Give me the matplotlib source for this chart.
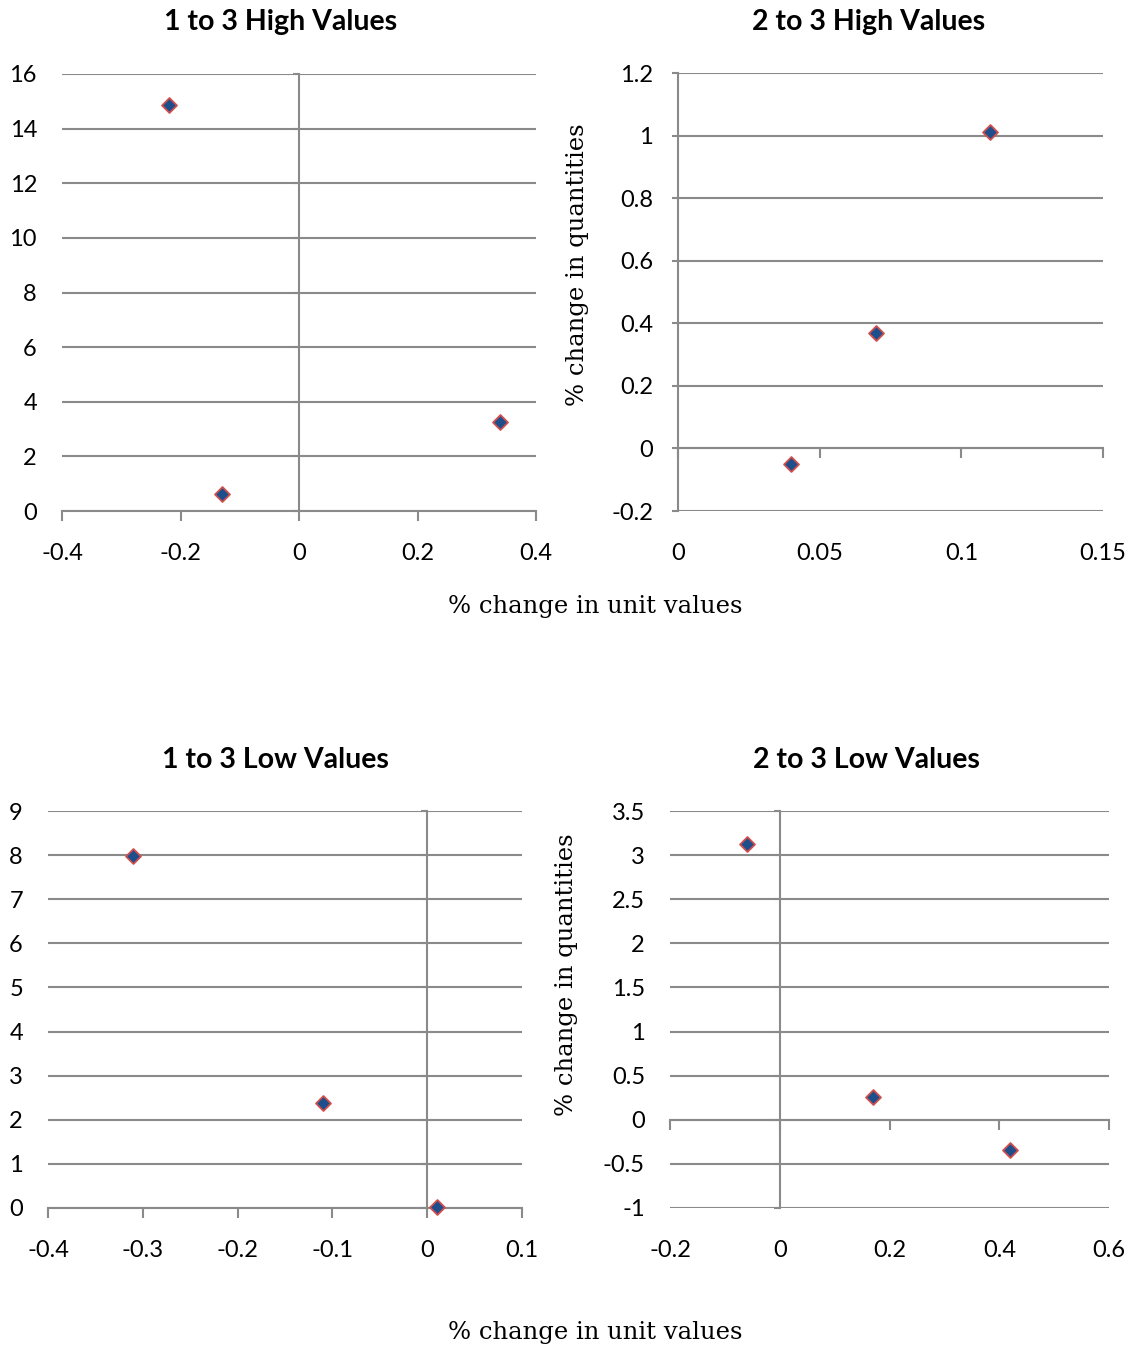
import matplotlib
matplotlib.use("Agg")
import matplotlib.pyplot as plt
import numpy as np

# data
hi13_x = [-0.22, -0.13, 0.34]
hi13_y = [14.88, 0.62, 3.25]
hi23_x = [0.04, 0.07, 0.11]
hi23_y = [-0.05, 0.37, 1.01]
lo13_x = [-0.31, -0.11, 0.01]
lo13_y = [7.97, 2.38, 0.03]
lo23_x = [-0.06, 0.17, 0.42]
lo23_y = [3.13, 0.26, -0.34]

titles = ["1 to 3 High Values", "2 to 3 High Values",
          "1 to 3 Low Values", "2 to 3 Low Values"]
xlabel = "% change in unit values"
ylabel = "% change in quantities"

W, H = 1134, 1351
fig = plt.figure(figsize=(W / 100, H / 100), dpi=100)

SANS = "Lato"
SERIF = "DejaVu Serif"
GRID = "#8a8a8a"


def fx(px):
    return px / W


def fy(py):
    return 1 - py / H


def panel(box, xs, ys, xlim, xstep, ylim, ystep, fmt):
    l, t, r, b = box
    ax = fig.add_axes([fx(l), fy(b), fx(r - l), (b - t) / H])
    ax.scatter(xs, ys, marker="D", s=58, facecolor="#1F4E8C",
               edgecolor="#D0504D", linewidth=1.3, zorder=5, clip_on=False)
    ax.set_xlim(*xlim)
    ax.set_ylim(*ylim)
    xt = np.round(np.arange(xlim[0], xlim[1] + xstep / 2, xstep), 6)
    yt = np.round(np.arange(ylim[0], ylim[1] + ystep / 2, ystep), 6)
    ax.set_xticks(xt)
    ax.set_yticks(yt)
    for s in ["top", "right"]:
        ax.spines[s].set_visible(False)
    # axes cross at zero, like the spreadsheet
    ax.spines["bottom"].set_position(("data", 0))
    ax.spines["left"].set_position(("data", 0))
    for s in ["bottom", "left"]:
        ax.spines[s].set_color(GRID)
        ax.spines[s].set_linewidth(1.5)
    ax.tick_params(axis="x", direction="out", length=7, width=1.5,
                   color=GRID, labelbottom=False)
    ax.tick_params(axis="y", direction="out", length=4, width=1.5,
                   color=GRID, labelleft=False)
    for v in yt:
        ax.axhline(v, color=GRID, lw=1.5, zorder=1)
    # labels sit on the outer edges
    sx = ax.secondary_xaxis(0)
    sx.set_xticks(xt)
    sx.set_xticklabels([fmt(v) for v in xt])
    sx.tick_params(length=0, pad=23, labelsize=17)
    sx.spines["bottom"].set_visible(False)
    sy = ax.secondary_yaxis(0)
    sy.set_yticks(yt)
    sy.set_yticklabels([fmt(v) for v in yt])
    sy.tick_params(length=0, pad=18, labelsize=17)
    sy.spines["left"].set_visible(False)
    for lab in sx.get_xticklabels() + sy.get_yticklabels():
        lab.set_fontfamily(SANS)
    return ax


def g(v):
    return "0" if v == 0 else f"{v:g}"


panel((62, 74, 536, 511), hi13_x, hi13_y, (-0.4, 0.4), 0.2, (0, 16), 2, g)
panel((678, 73, 1103, 511), hi23_x, hi23_y, (0, 0.15), 0.05, (-0.2, 1.2), 0.2, g)
panel((48, 811, 522, 1208), lo13_x, lo13_y, (-0.4, 0.1), 0.1, (0, 9), 1, g)
panel((670, 811, 1109, 1208), lo23_x, lo23_y, (-0.2, 0.6), 0.2, (-1, 3.5), 0.5, g)

for (cx, cy), t in zip([(281, 22), (869, 22), (275, 760), (866, 760)], titles):
    fig.text(fx(cx), fy(cy), t, ha="center", va="center",
             fontsize=20.5, fontweight="bold", fontfamily=SANS)

for cy in [607, 1333]:
    fig.text(fx(595), fy(cy), xlabel, ha="center", va="center",
             fontsize=17.5, fontfamily=SERIF)
for cx, cy in [(577, 265), (567, 975)]:
    fig.text(fx(cx), fy(cy), ylabel, ha="center", va="center",
             rotation=90, fontsize=17.5, fontfamily=SERIF)

fig.savefig("out.png", dpi=100, facecolor="white")
